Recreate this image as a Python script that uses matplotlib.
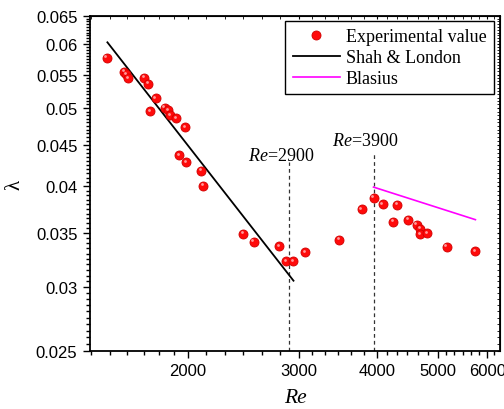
import numpy as np
import matplotlib
matplotlib.use("Agg")
import matplotlib.pyplot as plt
from matplotlib.ticker import FixedLocator, NullFormatter
from matplotlib.transforms import ScaledTranslation

plt.rcParams["mathtext.fontset"] = "custom"
plt.rcParams["mathtext.rm"] = "Liberation Serif"
plt.rcParams["mathtext.it"] = "Liberation Serif:italic"

re_exp = [1484, 1581, 1593, 1605, 1702, 1727, 1777, 1740, 1836, 1861, 1874,
          1914, 1980, 1935, 1988, 2098, 2115, 2450, 2545, 2796, 2868, 2943,
          3072, 3484, 3782, 3953, 4085, 4305, 4247, 4487, 4628, 4684, 4684,
          4811, 5166, 5738]
f_exp = [0.0577, 0.05545, 0.0551, 0.05446, 0.05451, 0.05359, 0.0514, 0.04957,
         0.05004, 0.04971, 0.04901, 0.04855, 0.04736, 0.04372, 0.04286,
         0.04181, 0.04006, 0.03493, 0.03415, 0.0337, 0.03229, 0.03229,
         0.03313, 0.03434, 0.03748, 0.03871, 0.03802, 0.03795, 0.03615,
         0.03636, 0.03584, 0.03544, 0.03488, 0.03497, 0.03366, 0.03325]

# correlations
shah_re = [1488, 2945]
shah_f = [0.0603, 0.03055]
blasius_re = [3950, 5740]
blasius_f = [0.0399, 0.03636]

# transition markers
trans_re = [2900, 3950]
trans_top = [0.0429, 0.0441]
trans_labels = ["2900", "3900"]
label_x = [2813, 3830]
label_y = [0.0431, 0.0450]

x_ticks = [2000, 3000, 4000, 5000, 6000]
y_ticks = [0.025, 0.03, 0.035, 0.04, 0.045, 0.05, 0.055, 0.06, 0.065]
y_labels = ["0.025", "0.03", "0.035", "0.04", "0.045", "0.05", "0.055", "0.06", "0.065"]

serif = ["Liberation Serif", "DejaVu Serif"]
sans = ["Liberation Sans", "DejaVu Sans"]

fig = plt.figure(figsize=(5.04, 4.10), dpi=100)
ax = fig.add_axes([90 / 504, 58 / 410, 410 / 504, 335 / 410])
ax.set_xscale("log")
ax.set_yscale("log")
ax.set_xlim(1396, 6282)
ax.set_ylim(0.025, 0.065)

# vertical dashed lines + labels
for xr, yt, lx, ly, lab in zip(trans_re, trans_top, label_x, label_y, trans_labels):
    ax.plot([xr, xr], [0.025, yt], ls=(0, (3, 2.5)), color="#333333", lw=0.9)
    ax.text(lx, ly, r"$\mathit{Re}$=" + lab, ha="center", va="baseline",
            fontsize=13, family=serif)

ax.plot(shah_re, shah_f, color="black", lw=1.3, label="Shah & London", zorder=3)
ax.plot(blasius_re, blasius_f, color="#ff00ff", lw=1.2, label="Blasius", zorder=3)
ax.plot(re_exp, f_exp, "o", ms=6.5, mfc="#ff0a0a", mec="#d00000", mew=0.6,
        ls="none", label="Experimental value", zorder=4)
# small highlight to mimic the shaded spheres
shift = ScaledTranslation(-1.3 / 100, 1.3 / 100, fig.dpi_scale_trans)
ax.plot(re_exp, f_exp, "o", ms=2.0, mfc="#ff9a9a", mec="none", ls="none",
        transform=ax.transData + shift, zorder=5)

# ticks
ax.xaxis.set_major_locator(FixedLocator(x_ticks))
ax.set_xticklabels([str(t) for t in x_ticks])
minor_x = list(range(1400, 2000, 100))
for a in range(2000, 7000, 1000):
    b = a + 1000
    minor_x += list(np.exp(np.linspace(np.log(a), np.log(b), 7)[1:-1]))
ax.xaxis.set_minor_locator(FixedLocator(minor_x))
ax.xaxis.set_minor_formatter(NullFormatter())

minor_y = list(np.arange(0.025, 0.0651, 0.0005))
ax.yaxis.set_major_locator(FixedLocator(y_ticks))
ax.set_yticklabels(y_labels)
ax.yaxis.set_minor_locator(FixedLocator(minor_y))
ax.yaxis.set_minor_formatter(NullFormatter())

ax.tick_params(which="both", direction="out", top=False, right=False, width=1.0)
ax.tick_params(which="major", length=5, labelsize=12, pad=4)
ax.tick_params(which="minor", length=3)
for lab in ax.get_xticklabels() + ax.get_yticklabels():
    lab.set_family(sans)

sec_x = ax.secondary_xaxis("top")
sec_x.set_xticks(x_ticks)
sec_x.xaxis.set_minor_locator(FixedLocator(minor_x))
sec_x.tick_params(which="both", direction="in", length=2.5, labeltop=False)
sec_x.set_xticklabels([])
sec_y = ax.secondary_yaxis("right")
sec_y.set_yticks(y_ticks)
sec_y.yaxis.set_minor_locator(FixedLocator(minor_y))
sec_y.tick_params(which="both", direction="in", length=2.5, labelright=False)
sec_y.set_yticklabels([])

for s in ax.spines.values():
    s.set_linewidth(1.3)

ax.set_xlabel("Re", fontsize=15.5, family=serif, style="italic", labelpad=7)
ax.set_ylabel("λ", fontsize=15, family=serif, labelpad=8)

handles, labels = ax.get_legend_handles_labels()
order = [2, 0, 1]
leg = ax.legend([handles[i] for i in order], [labels[i] for i in order],
                loc="upper right", bbox_to_anchor=(0.985, 0.985), fancybox=False,
                edgecolor="black", framealpha=1, prop={"family": serif, "size": 13},
                handlelength=2.6, handletextpad=0.35, borderpad=0.4, labelspacing=0.22,
                borderaxespad=0)
leg.get_frame().set_linewidth(1.0)

fig.savefig("out.png", dpi=100)
